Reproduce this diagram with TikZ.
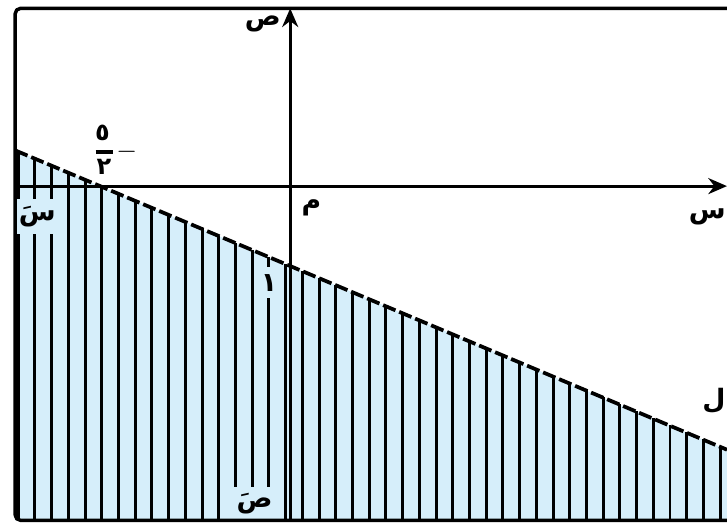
\documentclass[tikz,border=0pt]{standalone}
\usepackage{fontspec}
\usetikzlibrary{arrows.meta,calc}
\TeXXeTstate=1
\newfontfamily\arabicfont[Script=Arabic]{DejaVu Sans}
\definecolor{shadeblue}{HTML}{D6EEFA}
\newcommand{\artxt}[1]{{\arabicfont\bfseries\beginR #1\endR}}

\begin{document}
\begin{tikzpicture}[line join=round,
  lbl/.style={font=\normalsize, inner sep=1pt},
  lblfill/.style={lbl, fill=shadeblue}]
  \useasboundingbox (-3.82,-4.49) rectangle (5.75,2.45);
  % half plane below the line
  \fill[shadeblue] (-3.62,0.47) -- (5.75,-3.47) -- (5.75,-4.4) -- (-3.62,-4.4) -- cycle;
  \foreach \x in {-3.58,-3.36,...,5.7}
    \draw[line width=1.1pt] (\x,{-0.42*(\x+2.5)}) -- (\x,-4.4);
  % labels lying on the hatching
  \node[lblfill, minimum height=0.45cm] (xd) at (-3.33,-0.4) {\artxt{سَ}};
  \node[lblfill, minimum width=0.6cm, minimum height=0.44cm] (yd) at (-0.47,-4.18) {\artxt{صَ}};
  \node[lblfill, minimum height=0.4cm] (one) at (-0.28,-1.27) {\artxt{١}};
  % frame
  \draw[line width=1.3pt, rounded corners=2pt] (5.75,2.34) -- (-3.62,2.34) -- (-3.62,-4.4) -- (5.75,-4.4);
  % axes
  \coordinate (xl) at (-3.62,0);
  \coordinate (xr) at (5.75,0);
  \coordinate (yb) at (0,-4.4);
  \coordinate (yt) at (0,2.34);
  \draw[line width=1.1pt,-{Stealth[length=7pt,width=6pt]}] (xl) -- (xr);
  \draw[line width=1.1pt,-{Stealth[length=7pt,width=6pt]}] (yb) -- (yt);
  % the line
  \coordinate (la) at (-3.62,0.47);
  \coordinate (lb) at (5.75,-3.47);
  \draw[line width=1.4pt, dash pattern=on 5pt off 1.5pt] (la) -- (lb);
  % labels
  \node[lbl] (y) at (-0.36,2.14) {\artxt{ص}};
  \node[lbl] (x) at (5.49,-0.41) {\artxt{س}};
  \node[lbl] (o) at (0.28,-0.29) {\artxt{م}};
  \node[lbl] (l) at (5.58,-2.82) {\artxt{ل}};
  % -5/2
  \node[lbl, font=\small] (five) at (-2.47,0.7) {\artxt{٥}};
  \node[lbl, font=\small] (two) at (-2.45,0.25) {\artxt{٢}};
  \draw[line width=1.2pt] (-2.56,0.45) -- (-2.33,0.45);
  \node[lbl] (minus) at (-2.15,0.45) {$-$};
\end{tikzpicture}
\end{document}
